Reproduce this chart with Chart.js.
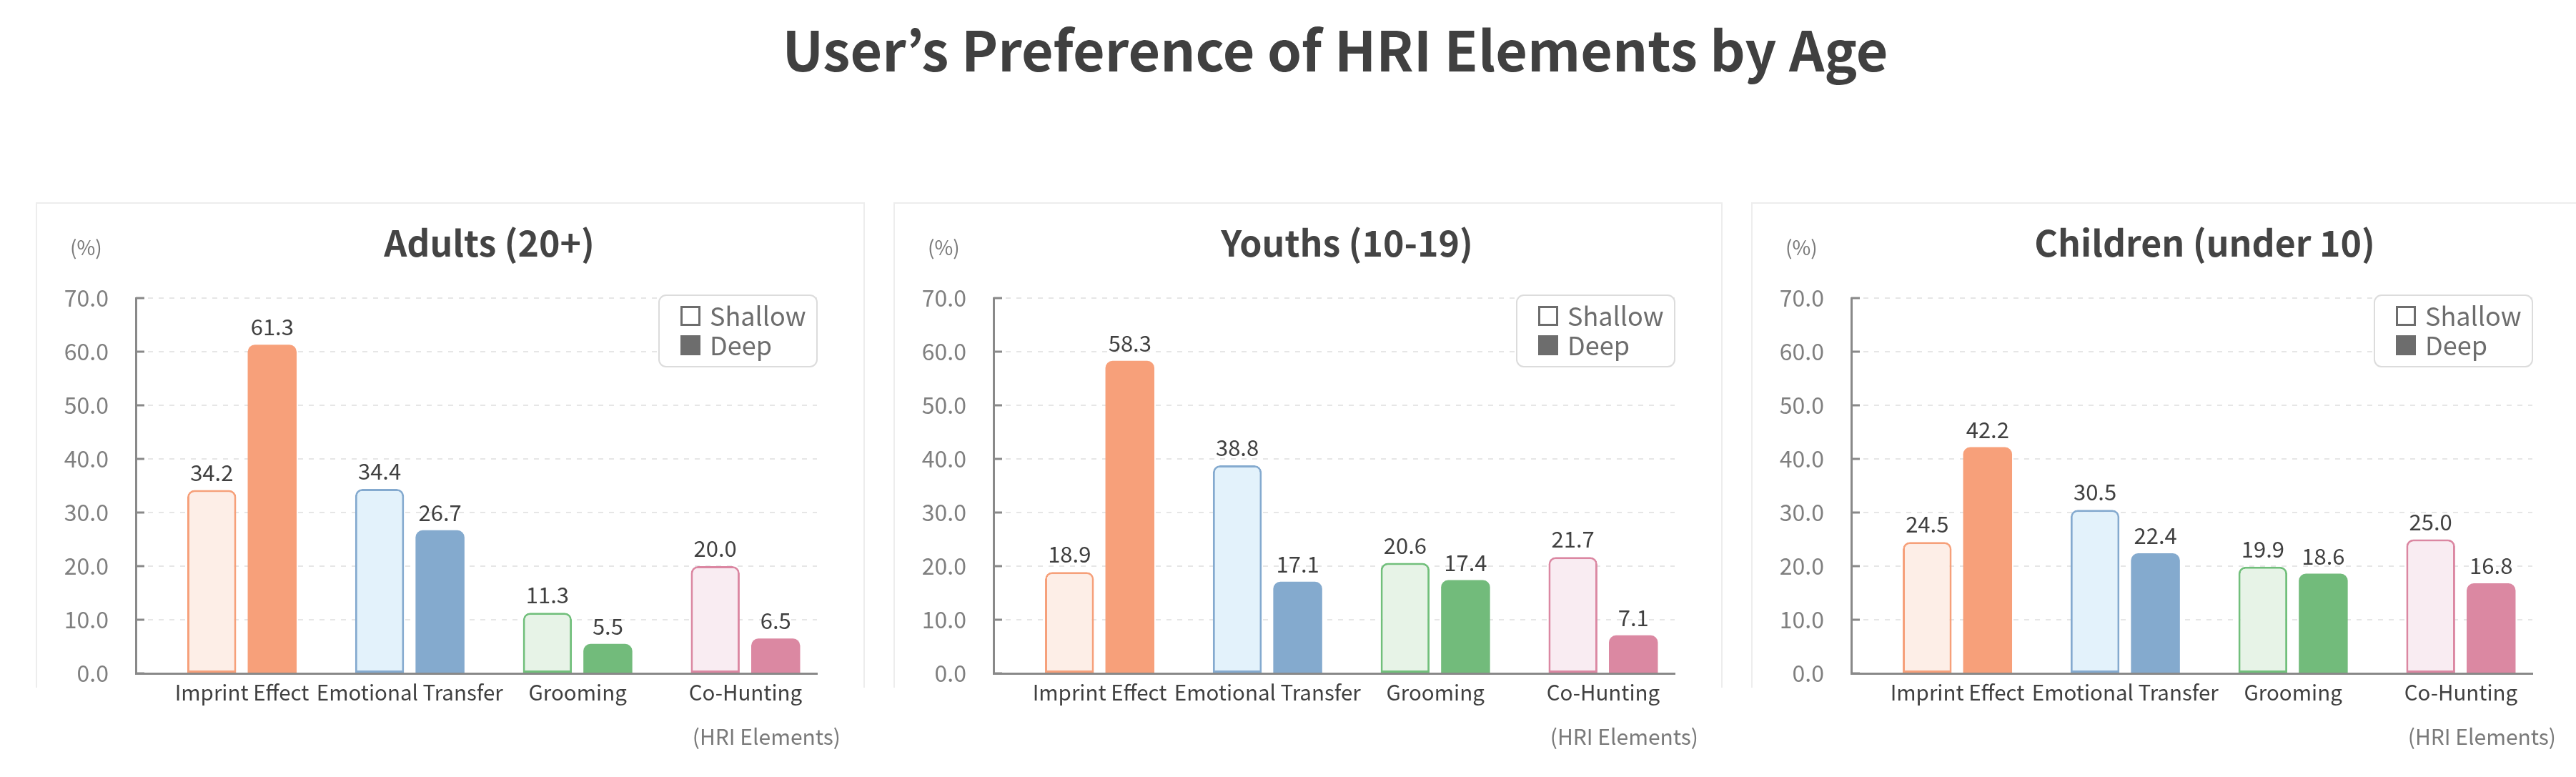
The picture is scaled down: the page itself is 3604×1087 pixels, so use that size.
<!DOCTYPE html>
<html><head><meta charset="utf-8">
<script src="https://cdn.jsdelivr.net/npm/chart.js@4.4.0/dist/chart.umd.min.js"></script>
<style>
html,body{margin:0;padding:0;background:#fff;width:3604px;height:1087px;overflow:hidden;position:relative;font-family:"Noto Sans CJK KR","Noto Sans",sans-serif;}
#mainTitle{position:absolute;top:28px;left:1868px;transform:translateX(-50%);font-size:77px;font-weight:bold;color:#404040;white-space:nowrap;line-height:1;}
.panel{position:absolute;top:283px;width:1156px;height:677px;border:2px solid #ededed;border-bottom:none;}
.wrap{position:absolute;top:260px;width:1160px;height:827px;}
</style></head>
<body>
<div id="mainTitle">User’s Preference of HRI Elements by Age</div>
<div class="panel" style="left:50px"></div>
<div class="panel" style="left:1250px"></div>
<div class="panel" style="left:2450px"></div>
<div class="wrap" style="left:50px"><canvas id="c0" width="1160" height="827"></canvas></div>
<div class="wrap" style="left:1250px"><canvas id="c1" width="1160" height="827"></canvas></div>
<div class="wrap" style="left:2450px"><canvas id="c2" width="1160" height="827"></canvas></div>
<script>
const categories = ['Imprint Effect', 'Emotional Transfer', 'Grooming', 'Co-Hunting'];
const seriesNames = ['Shallow', 'Deep'];
const panelTitles = ['Adults (20+)', 'Youths (10-19)', 'Children (under 10)'];
const adultsShallow = [34.2, 34.4, 11.3, 20.0];
const adultsDeep = [61.3, 26.7, 5.5, 6.5];
const youthsShallow = [18.9, 38.8, 20.6, 21.7];
const youthsDeep = [58.3, 17.1, 17.4, 7.1];
const childrenShallow = [24.5, 30.5, 19.9, 25.0];
const childrenDeep = [42.2, 22.4, 18.6, 16.8];
const yTicks = [0, 10, 20, 30, 40, 50, 60, 70];
const yUnitLabel = '(%)';
const xUnitLabel = '(HRI Elements)';

const FONT = '"Noto Sans CJK KR", "Noto Sans", sans-serif';
const shallowFill = ['#FDEEE7', '#E3F2FB', '#E7F3E7', '#F9ECF2'];
const shallowBorder = ['#F6A07A', '#84AACF', '#71BF7B', '#DB87A2'];
const deepFill = ['#F7A07A', '#84AACE', '#72BB7B', '#DB88A2'];
const axisColor = '#898989';

const panelDecor = {
  id: 'panelDecor',
  afterDraw(chart, args, opts) {
    const ctx = chart.ctx;
    const {left, right, top, bottom} = chart.chartArea;
    const ys = chart.scales.y;
    ctx.save();
    // inner tick marks
    ctx.strokeStyle = axisColor; ctx.lineWidth = 3;
    ys.ticks.forEach(t => {
      const py = ys.getPixelForValue(t.value);
      ctx.beginPath(); ctx.moveTo(left, py); ctx.lineTo(left + 12, py); ctx.stroke();
    });
    // value labels
    ctx.font = '31px ' + FONT; ctx.fillStyle = '#404040';
    ctx.textAlign = 'center'; ctx.textBaseline = 'alphabetic';
    chart.data.datasets.forEach((ds, di) => {
      chart.getDatasetMeta(di).data.forEach((bar, i) => {
        ctx.fillText(ds.data[i].y.toFixed(1), bar.x, bar.y - 13);
      });
    });
    // panel title
    ctx.font = 'bold 50px ' + FONT; ctx.fillStyle = '#444444';
    ctx.textBaseline = 'middle';
    ctx.fillText(opts.title, (left + right) / 2 + 18, 80);
    // unit labels
    ctx.font = '28px ' + FONT; ctx.fillStyle = '#7a7a7a'; ctx.textAlign = 'left';
    ctx.fillText(yUnitLabel, 48, 86);
    ctx.font = '30px ' + FONT;
    ctx.textAlign = 'right';
    ctx.fillText(xUnitLabel, 1126, 771);
    // legend box
    const lx = 872, ly = 153, lw = 221, lh = 100;
    ctx.beginPath(); ctx.roundRect(lx, ly, lw, lh, 10);
    ctx.fillStyle = '#ffffff'; ctx.fill();
    ctx.strokeStyle = '#dcdcdc'; ctx.lineWidth = 2; ctx.stroke();
    ctx.textAlign = 'left'; ctx.textBaseline = 'middle';
    ctx.font = '36px ' + FONT;
    chart.data.datasets.forEach((ds, di) => {
      const cy = ly + 29 + di * 41;
      if (di === 0) {
        ctx.strokeStyle = '#6d6d6d'; ctx.lineWidth = 3;
        ctx.strokeRect(lx + 31.5, cy - 12.5, 25, 25);
      } else {
        ctx.fillStyle = '#6d6d6d'; ctx.fillRect(lx + 30, cy - 14, 28, 28);
      }
      ctx.fillStyle = '#6d6d6d';
      ctx.fillText(ds.label, lx + 71, cy);
    });
    ctx.restore();
  }
};

function makeChart(id, title, shallow, deep) {
  const toPts = vals => categories.map((c, i) => ({x: i, y: vals[i]}));
  return new Chart(document.getElementById(id), {
    type: 'bar',
    data: {
      datasets: [
        {label: seriesNames[0], data: toPts(shallow), backgroundColor: shallowFill, borderColor: shallowBorder,
         borderWidth: 3, borderSkipped: false,
         borderRadius: {topLeft: 10, topRight: 10, bottomLeft: 0, bottomRight: 0}},
        {label: seriesNames[1], data: toPts(deep), backgroundColor: deepFill, borderColor: deepFill,
         borderWidth: 0, borderSkipped: 'bottom',
         borderRadius: {topLeft: 10, topRight: 10, bottomLeft: 0, bottomRight: 0}}
      ]
    },
    options: {
      responsive: false, animation: false, devicePixelRatio: 1,
      categoryPercentage: 0.72, barPercentage: 0.81,
      layout: {padding: {top: 157, right: 67, bottom: 85, left: 0}},
      plugins: {legend: {display: false}, title: {display: false}, tooltip: {enabled: false},
                panelDecor: {title: title}},
      scales: {
        x: {
          type: 'linear', min: -0.6325, max: 3.426, offset: false, z: 1,
          afterBuildTicks: s => { s.ticks = categories.map((c, i) => ({value: i})); },
          afterFit: s => { s.height = 60; },
          ticks: {callback: v => categories[v], color: '#404040', font: {size: 29.5, family: FONT},
                  padding: 9, autoSkip: false, maxRotation: 0, minRotation: 0},
          grid: {display: false, drawTicks: false, offset: false},
          border: {display: true, color: axisColor, width: 3}
        },
        y: {
          min: 0, max: 70,
          afterBuildTicks: s => { s.ticks = yTicks.map(v => ({value: v})); },
          afterFit: s => { s.width = 140; },
          ticks: {callback: v => v.toFixed(1), color: '#7f7f7f', font: {size: 32, family: FONT}, padding: 38},
          grid: {color: '#e6e6e6', lineWidth: 2, drawTicks: false},
          border: {display: true, color: axisColor, width: 3, dash: [7, 8]}
        }
      }
    },
    plugins: [panelDecor]
  });
}

makeChart('c0', panelTitles[0], adultsShallow, adultsDeep);
makeChart('c1', panelTitles[1], youthsShallow, youthsDeep);
makeChart('c2', panelTitles[2], childrenShallow, childrenDeep);
</script>
</body></html>
